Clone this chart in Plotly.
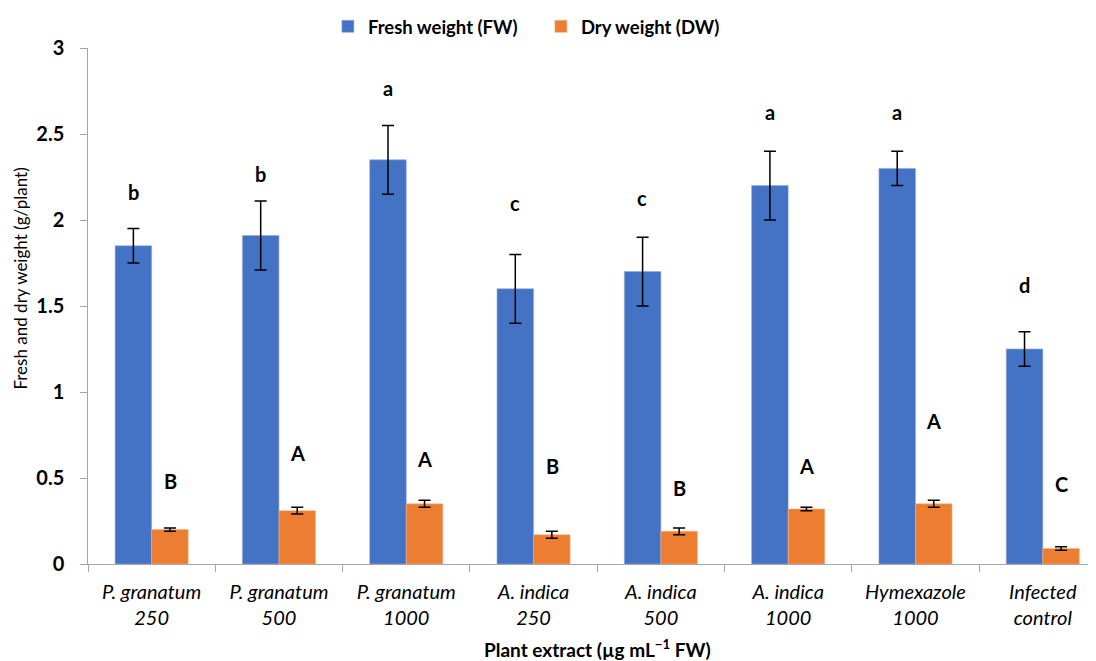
import plotly.graph_objects as go

categories = ["P. granatum 250", "P. granatum 500", "P. granatum 1000",
              "A. indica 250", "A. indica 500", "A. indica 1000",
              "Hymexazole 1000", "Infected control"]
tick_labels = ["<i>P. granatum<br>250</i>", "<i>P. granatum<br>500</i>", "<i>P. granatum<br>1000</i>",
               "<i>A. indica<br>250</i>", "<i>A. indica<br>500</i>", "<i>A. indica<br>1000</i>",
               "<i>Hymexazole<br>1000</i>", "<i>Infected<br>control</i>"]
y_tick_values = [0, 0.5, 1, 1.5, 2, 2.5, 3]
y_tick_labels = ["0", "0.5", "1", "1.5", "2", "2.5", "3"]
fw_values = [1.85, 1.91, 2.35, 1.60, 1.70, 2.20, 2.30, 1.25]
fw_errors = [0.10, 0.20, 0.20, 0.20, 0.20, 0.20, 0.10, 0.10]
dw_values = [0.20, 0.31, 0.35, 0.17, 0.19, 0.32, 0.35, 0.09]
dw_errors = [0.01, 0.02, 0.02, 0.02, 0.02, 0.01, 0.02, 0.01]
fw_letters = ["b", "b", "a", "c", "c", "a", "a", "d"]
dw_letters = ["B", "A", "A", "B", "B", "A", "A", "C"]
fw_letter_y = [2.16, 2.27, 2.77, 2.10, 2.13, 2.63, 2.63, 1.62]
dw_letter_y = [0.48, 0.645, 0.61, 0.57, 0.44, 0.57, 0.83, 0.465]

FONT = "Lato"
BLUE = "#4472C4"
ORANGE = "#ED7D31"

fig = go.Figure()
fig.add_trace(go.Bar(
    x=categories, y=fw_values, name="<b>Fresh weight (FW)</b>",
    marker=dict(color=BLUE, line=dict(color="#8FAADC", width=0.6)),
    error_y=dict(type="data", array=fw_errors, color="black", thickness=1.5, width=6),
))
fig.add_trace(go.Bar(
    x=categories, y=dw_values, name="<b>Dry weight (DW)</b>",
    marker=dict(color=ORANGE, line=dict(color="#F4B183", width=0.6)),
    error_y=dict(type="data", array=dw_errors, color="black", thickness=1.5, width=6),
))

annotations = []
for i, c in enumerate(categories):
    annotations.append(dict(x=c, y=fw_letter_y[i], text="<b>%s</b>" % fw_letters[i],
                            xref="x", yref="y", showarrow=False, xshift=-18.5,
                            font=dict(family=FONT, size=20, color="black")))
    annotations.append(dict(x=c, y=dw_letter_y[i], text="<b>%s</b>" % dw_letters[i],
                            xref="x", yref="y", showarrow=False, xshift=18.5,
                            font=dict(family=FONT, size=20, color="black")))

annotations.append(dict(text="Fresh and dry weight (g/plant)", xref="paper", yref="paper",
                        x=-0.067, y=0.554, textangle=-90, showarrow=False,
                        xanchor="center", yanchor="middle",
                        font=dict(family=FONT, size=17, color="black")))
annotations.append(dict(text="<b>Plant extract (µg mL<sup>−1</sup> FW)</b>", xref="paper", yref="paper",
                        x=0.505, y=-0.163, showarrow=False, xanchor="center", yanchor="middle",
                        font=dict(family=FONT, size=19, color="black")))

fig.update_layout(
    width=1088, height=653,
    margin=dict(l=80, r=0, t=40, b=97, autoexpand=False),
    paper_bgcolor="white", plot_bgcolor="white",
    barmode="group", bargap=0.426, bargroupgap=0,
    font=dict(family=FONT, color="black"),
    showlegend=True,
    legend=dict(orientation="h", x=0.238, y=1.041, xanchor="left", yanchor="middle",
                font=dict(family=FONT, size=18.5, color="black"), itemwidth=30,
                entrywidth=168, tracegroupgap=0),
    annotations=annotations,
)
fig.update_xaxes(
    type="category", range=[-0.5, 7.418], automargin=False,
    tickmode="array", tickvals=categories, ticktext=tick_labels,
    tickson="boundaries", ticks="outside", ticklen=7, tickcolor="#A6A6A6",
    showline=True, linecolor="#A6A6A6", linewidth=1.3,
    tickfont=dict(family=FONT, size=20, color="black"),
    ticklabelstandoff=10,
    showgrid=False, zeroline=False,
)
fig.update_yaxes(
    range=[0, 3], tickvals=y_tick_values, automargin=False,
    ticktext=["<b>%s</b>\u2007" % t for t in y_tick_labels],
    ticks="outside", ticklen=7, tickcolor="#A6A6A6",
    showline=True, linecolor="#A6A6A6", linewidth=1.3,
    tickfont=dict(family=FONT, size=20, color="black"),
    showgrid=False, zeroline=False,
)

fig.write_html("out.html")
